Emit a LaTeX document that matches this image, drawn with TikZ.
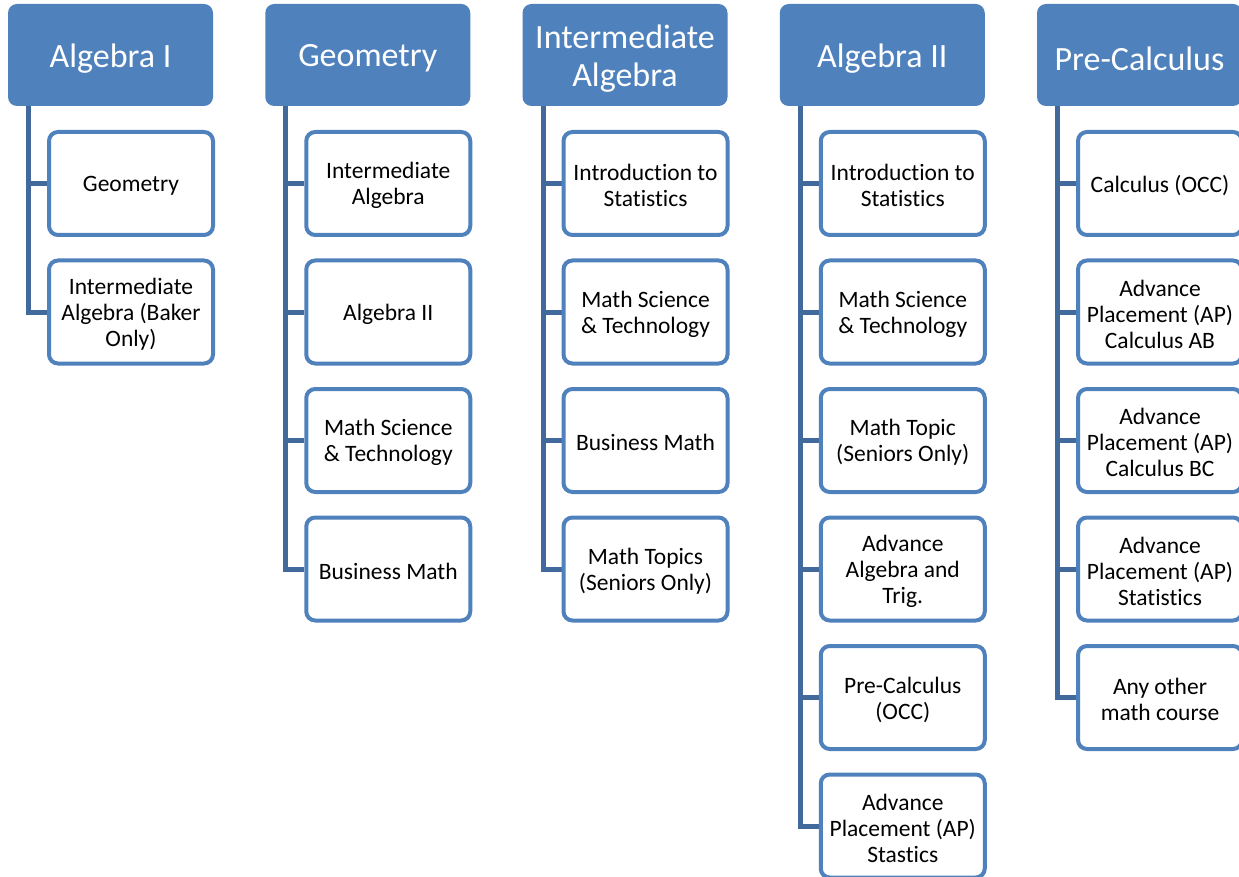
\documentclass[tikz,border=0pt]{standalone}
\usepackage{fontspec}
\setmainfont[Ligatures=NoCommon]{Carlito}
\usetikzlibrary{backgrounds}
\definecolor{accent}{HTML}{4F81BD}
\definecolor{connc}{HTML}{41699B}
\begin{document}
\begin{tikzpicture}[x=1pt,y=-1pt,
  hdr/.style={rectangle, rounded corners=9pt, fill=accent,
    minimum width=205pt, minimum height=102pt, inner sep=0pt},
  hdrtxt/.style={text=white, align=center, inner sep=0pt, yshift=-3.5pt,
    font=\fontsize{34}{37.5}\selectfont},
  item/.style={rectangle, rounded corners=9pt, draw=accent, line width=4pt,
    fill=white, minimum width=164pt, minimum height=103pt, inner sep=0pt},
  itemtxt/.style={text=black, align=center, inner sep=0pt, yshift=-2pt,
    font=\fontsize{23.5}{26}\selectfont},
  conn/.style={draw=connc, line width=5pt}]
\begin{pgfonlayer}{background}
\fill[white] (0,0) rectangle (1239,877);
\end{pgfonlayer}
\clip (0,0) rectangle (1239,877);

% headers
\node[hdr, label={[hdrtxt]center:Algebra I}] (hA) at (110.5,55) {};
\node[hdr, label={[hdrtxt]center:Geometry}] (hB) at (367.75,55) {};
\node[hdr, label={[hdrtxt]center:{Intermediate\\Algebra}}] (hC) at (625,55) {};
\node[hdr, label={[hdrtxt]center:Algebra II}] (hD) at (882.25,55) {};
\node[hdr, label={[hdrtxt]center:Pre-Calculus}] (hE) at (1139.5,55) {};

% column A
\node[item, label={[itemtxt]center:Geometry}] (cA1) at (131,183.5) {};
\node[item, label={[itemtxt]center:{Intermediate\\Algebra (Baker\\Only)}}] (cA2) at (131,312) {};
% column B
\node[item, label={[itemtxt]center:{Intermediate\\Algebra}}] (cB1) at (388.25,183.5) {};
\node[item, label={[itemtxt]center:Algebra II}] (cB2) at (388.25,312) {};
\node[item, label={[itemtxt]center:{Math Science\\\& Technology}}] (cB3) at (388.25,440.5) {};
\node[item, label={[itemtxt]center:Business Math}] (cB4) at (388.25,569) {};
% column C
\node[item, label={[itemtxt]center:{Introduction to\\Statistics}}] (cC1) at (645.5,183.5) {};
\node[item, label={[itemtxt]center:{Math Science\\\& Technology}}] (cC2) at (645.5,312) {};
\node[item, label={[itemtxt]center:Business Math}] (cC3) at (645.5,440.5) {};
\node[item, label={[itemtxt]center:{Math Topics\\(Seniors Only)}}] (cC4) at (645.5,569) {};
% column D
\node[item, label={[itemtxt]center:{Introduction to\\Statistics}}] (cD1) at (902.75,183.5) {};
\node[item, label={[itemtxt]center:{Math Science\\\& Technology}}] (cD2) at (902.75,312) {};
\node[item, label={[itemtxt]center:{Math Topic\\(Seniors Only)}}] (cD3) at (902.75,440.5) {};
\node[item, label={[itemtxt]center:{Advance\\Algebra and\\Trig.}}] (cD4) at (902.75,569) {};
\node[item, label={[itemtxt]center:{Pre-Calculus\\(OCC)}}] (cD5) at (902.75,697.5) {};
\node[item, label={[itemtxt]center:{Advance\\Placement (AP)\\Stastics}}] (cD6) at (902.75,826) {};
% column E
\node[item, label={[itemtxt]center:Calculus (OCC)}] (cE1) at (1160,183.5) {};
\node[item, label={[itemtxt]center:{Advance\\Placement (AP)\\Calculus AB}}] (cE2) at (1160,312) {};
\node[item, label={[itemtxt]center:{Advance\\Placement (AP)\\Calculus BC}}] (cE3) at (1160,440.5) {};
\node[item, label={[itemtxt]center:{Advance\\Placement (AP)\\Statistics}}] (cE4) at (1160,569) {};
\node[item, label={[itemtxt]center:{Any other\\math course}}] (cE5) at (1160,697.5) {};

% connector x positions
\coordinate (tA) at (28.5,100);
\coordinate (tB) at (285.75,100);
\coordinate (tC) at (543,100);
\coordinate (tD) at (800.25,100);
\coordinate (tE) at (1057.5,100);

\begin{pgfonlayer}{background}
\foreach \c/\n in {A/2,B/4,C/4,D/6,E/5}{
  \foreach \k in {1,...,\n}{
    \draw[conn] (h\c.south -| t\c) |- (c\c\k.west);
  }
}
\end{pgfonlayer}
\end{tikzpicture}
\end{document}
